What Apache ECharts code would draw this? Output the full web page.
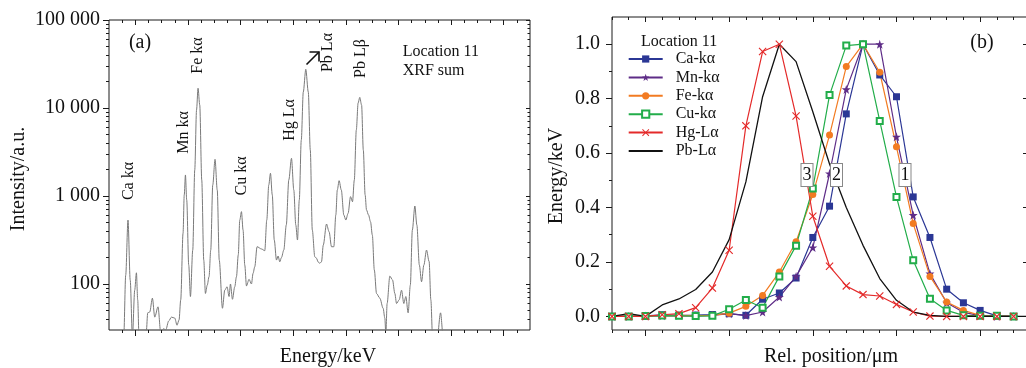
<!DOCTYPE html>
<html>
<head>
<meta charset="UTF-8" />
<script type="text/javascript" src="https://cdn.jsdelivr.net/npm/echarts@6/dist/echarts.min.js"></script>
<style>
  html, body { margin: 0; padding: 0; background: #fff; }
  #chartmain { width: 1026px; height: 368px; }
</style>
</head>
<body>
<div id="chartmain"></div>
<script type="text/javascript">
// (a) XRF sum spectrum, energy in keV and intensity in a.u.
var spectrumEnergy = [3.00, 3.50, 3.56, 3.635, 3.722, 3.806, 3.89, 3.977, 4.042, 4.091, 4.141, 4.32, 4.422, 4.471, 4.548, 4.65, 4.738, 4.863, 4.966, 5.08,
  5.156, 5.27, 5.373, 5.498, 5.586, 5.662, 5.726, 5.814, 5.86, 5.905, 5.954, 6.03, 6.095, 6.183, 6.259, 6.327, 6.384, 6.449, 6.525, 6.601,
  6.665, 6.734, 6.802, 6.867, 6.943, 7.03, 7.114, 7.19, 7.312, 7.399, 7.487, 7.563, 7.616, 7.692, 7.779, 7.844, 7.913, 7.97, 8.034, 8.095,
  8.16, 8.224, 8.323, 8.414, 8.475, 8.54, 8.627, 8.795, 8.92, 8.996, 9.072, 9.137, 9.205, 9.281, 9.365, 9.426, 9.49, 9.555, 9.643, 9.738,
  9.833, 9.935, 10.023, 10.099, 10.163, 10.232, 10.308, 10.384, 10.479, 10.574, 10.65, 10.726, 10.821, 10.886, 10.947, 11.011, 11.076, 11.144, 11.266, 11.365,
  11.456, 11.544, 11.62, 11.677, 11.745, 11.829, 11.924, 12.0, 12.087, 12.179, 12.255, 12.323, 12.399, 12.468, 12.53, 12.6, 12.665, 12.734, 12.787, 12.863,
  12.939, 13.008, 13.084, 13.167, 13.293, 13.418, 13.483, 13.521, 13.57, 13.673, 13.776, 13.863, 13.928, 14.027, 14.118, 14.205, 14.281, 14.369, 14.452, 14.529,
  14.624, 14.70, 14.795, 14.878, 14.966, 15.067, 15.166, 15.232, 15.297, 15.46, 15.601, 15.70, 15.80, 19.0];
var spectrumCounts = [20, 20, 25, 126, 533, 111, 25, 85, 134, 66, 25, 20, 30, 47, 48, 69, 42, 55, 28, 31,
  30, 38, 42, 41, 34, 39, 66, 377, 1030, 1734, 900, 164, 72, 243, 1975, 9490, 16750, 10800, 1520, 187,
  78, 97, 121, 243, 1334, 2612, 1170, 187, 53, 85, 93, 72, 100, 67, 93, 121, 214, 533, 664, 411,
  164, 95, 113, 100, 132, 157, 265, 250, 239, 533, 1334, 1811, 1030, 316, 187, 208, 179, 200, 243, 468,
  1520, 2680, 1170, 468, 316, 900, 4330, 15200, 27500, 15200, 3330, 411, 204, 196, 178, 172, 179, 277, 480, 392,
  265, 265, 609, 1170, 1493, 1170, 609, 533, 635, 983, 860, 1520, 5620, 11400, 13200, 10800, 3330, 1030, 693, 609,
  510, 360, 144, 78, 69, 53, 41, 27, 60, 123, 111, 78, 60, 66, 85, 60, 72, 47, 97, 411,
  769, 468, 164, 106, 164, 243, 180, 66, 25, 22, 47, 25, 20, 20];

var intensityTicks = [100, 1000, 10000, 100000];
var intensityMinorTicks = [40, 50, 60, 70, 80, 90, 200, 300, 400, 500, 600, 700, 800, 900,
  2000, 3000, 4000, 5000, 6000, 7000, 8000, 9000, 20000, 30000, 40000, 50000, 60000, 70000, 80000, 90000];
var energyTicks = [4, 6, 8, 10, 12, 14, 16, 18];
var energyMinorTicks = [3.5, 4.5, 5, 5.5, 6.5, 7, 7.5, 8.5, 9, 9.5, 10.5, 11, 11.5, 12.5, 13, 13.5, 14.5, 15, 15.5, 16.5, 17, 17.5, 18.5];

// (b) line scan profiles
var relPos = [0, 1, 2, 3, 4, 5, 6, 7, 8, 9, 10, 11, 12, 13, 14, 15, 16, 17, 18, 19, 20, 21, 22, 23, 24];
var caKa = [0, 0, 0.002, 0.006, 0.004, 0.005, 0.007, 0.010, 0.004, 0.063, 0.086, 0.141, 0.290, 0.405, 0.744, 1.000, 0.887, 0.807, 0.439, 0.290, 0.100, 0.050, 0.022, 0.002, 0];
var mnKa = [0, 0, 0.001, 0.002, 0.003, 0.002, 0.004, 0.010, 0.003, 0.016, 0.071, 0.147, 0.253, 0.525, 0.834, 1.000, 1.000, 0.660, 0.372, 0.157, 0.050, 0.015, 0.003, 0, 0];
var feKa = [0, 0, 0.002, 0.003, 0.004, 0.003, 0.004, 0.012, 0.037, 0.077, 0.163, 0.274, 0.448, 0.666, 0.918, 1.000, 0.897, 0.623, 0.341, 0.147, 0.053, 0.022, 0.004, 0, 0];
var cuKa = [0, 0, 0.001, 0.003, 0.002, 0.001, 0.002, 0.026, 0.060, 0.032, 0.147, 0.260, 0.470, 0.813, 0.995, 1.000, 0.718, 0.439, 0.206, 0.065, 0.022, 0.004, 0.002, 0.002, 0];
var hgLa = [0, 0, 0, 0.006, 0.010, 0.032, 0.104, 0.243, 0.700, 0.973, 1.000, 0.736, 0.368, 0.184, 0.112, 0.080, 0.075, 0.044, 0.016, 0.001, 0, 0, 0, 0, 0];
var pbPos = [0, 1, 2, 3, 4, 5, 6, 7, 8, 9, 10, 11, 12, 13, 14, 15, 16, 17, 18, 19, 20, 21, 22, 23, 24, 25];
var pbLa = [0, 0.010, 0, 0.042, 0.064, 0.099, 0.163, 0.282, 0.494, 0.807, 1.000, 0.936, 0.752, 0.560, 0.400, 0.261, 0.139, 0.059, 0.016, 0.004, 0, 0, 0, 0, 0, 0];

var posTicks = [2, 7, 12, 17, 22];
var posMinorTicks = [0, 1, 3, 4, 5, 6, 8, 9, 10, 11, 13, 14, 15, 16, 18, 19, 20, 21, 23, 24];
var energyValTicks = [0, 0.2, 0.4, 0.6, 0.8, 1.0];
var energyValMinorTicks = [0.1, 0.3, 0.5, 0.7, 0.9];

var FONT = '"Liberation Serif", "Times New Roman", serif';
var AXIS = '#1a1a1a';

function pairs(xs, ys) {
  return ys.map(function (v, i) { return [xs[i], v]; });
}

// tick-only axis: the frame itself is the grid border.
// ticks on the top/right sides point into the plot: the axis is shifted in by
// the tick length (negative offset) and its ticks drawn outwards from there.
function tickAxis(grid, pos, ticks, len, mirror, extra) {
  var ax = {
    gridIndex: grid,
    position: pos,
    type: 'value',
    offset: mirror ? -len : 0,
    axisLine: { show: false, onZero: false },
    axisTick: { show: true, inside: false, length: len, customValues: ticks, lineStyle: { color: AXIS, width: 1 } },
    axisLabel: { show: false },
    splitLine: { show: false },
    minorTick: { show: false }
  };
  for (var k in extra) ax[k] = extra[k];
  return ax;
}

var starPath = 'path://M5,0L6.2,3.6L10,3.6L7,5.9L8.1,9.5L5,7.3L1.9,9.5L3,5.9L0,3.6L3.8,3.6Z';
var crossPath = 'path://M0,1L1,0L5,4L9,0L10,1L6,5L10,9L9,10L5,6L1,10L0,9L4,5Z';

function ext(base, more) {
  var o = {};
  for (var k in base) o[k] = base[k];
  for (var m in more) o[m] = more[m];
  return o;
}
var xA = { min: 3, max: 19 };
var xB = { min: 0, max: 24.8 };
var yA = { type: 'log', min: 30, max: 100000 };
var yB = { min: -0.05, max: 1.1 };

var spectrumData = pairs(spectrumEnergy, spectrumCounts);

function profile(name, data, xi, yi, color, symbol, size, itemStyle) {
  return {
    name: name, type: 'line', xAxisIndex: xi, yAxisIndex: yi, data: data,
    symbol: symbol, symbolSize: size, color: color,
    lineStyle: { width: 1.2, color: color }, itemStyle: itemStyle || { color: color }
  };
}

// the tick-only axes need a series to get a scale; same spectrum, drawn invisibly
function ghost(xi, yi) {
  return {
    name: 'ghost' + xi, type: 'line', xAxisIndex: xi, yAxisIndex: yi, data: spectrumData,
    symbol: 'none', silent: true, lineStyle: { opacity: 0, width: 0 }, z: 0
  };
}

var option = {
  animation: false,
  backgroundColor: '#fff',
  textStyle: { fontFamily: FONT },
  grid: [
    { left: 109, top: 20, width: 421, height: 310, show: true, borderColor: AXIS, borderWidth: 1, backgroundColor: 'transparent', outerBoundsMode: 'none', containLabel: false },
    { left: 612, top: 17, width: 415, height: 313, show: true, borderColor: AXIS, borderWidth: 1, backgroundColor: 'transparent', outerBoundsMode: 'none', containLabel: false }
  ],
  xAxis: [
    tickAxis(0, 'bottom', energyTicks, 6, false, xA),
    tickAxis(0, 'bottom', energyMinorTicks, 3, false, xA),
    tickAxis(0, 'top', energyTicks, 5, true, xA),
    tickAxis(0, 'top', energyMinorTicks, 3, true, xA),
    tickAxis(1, 'bottom', posTicks, 6, false, xB),
    tickAxis(1, 'bottom', posMinorTicks, 3, false, xB),
    tickAxis(1, 'top', posTicks, 5, true, xB),
    tickAxis(1, 'top', posMinorTicks, 3, true, xB)
  ],
  yAxis: [
    tickAxis(0, 'left', intensityTicks, 6, false, ext(yA, {
      axisLabel: {
        show: true, customValues: intensityTicks, margin: 9, color: '#111', fontSize: 20, fontFamily: FONT,
        formatter: function (v) { return String(Math.round(v)).replace(/\B(?=(\d{3})+(?!\d))/g, ' '); }
      }
    })),
    tickAxis(0, 'left', intensityMinorTicks, 3, false, yA),
    tickAxis(0, 'right', intensityTicks, 4, true, yA),
    tickAxis(0, 'right', intensityMinorTicks, 2.5, true, yA),
    tickAxis(1, 'left', energyValTicks, 6, false, ext(yB, {
      axisLabel: {
        show: true, customValues: energyValTicks, margin: 12, color: '#111', fontSize: 20, fontFamily: FONT,
        formatter: function (v) { return v.toFixed(1); }
      }
    })),
    tickAxis(1, 'left', energyValMinorTicks, 3, false, yB),
    tickAxis(1, 'right', energyValTicks, 4, true, yB)
  ],
  legend: {
    orient: 'vertical',
    left: 622.7,
    top: 45,
    itemWidth: 34,
    itemHeight: 9,
    itemGap: 0.4,
    textStyle: { fontFamily: FONT, fontSize: 16, color: '#111', lineHeight: 18, padding: [0, 0, 0, 8] },
    data: ['Ca-kα', 'Mn-kα', 'Fe-kα', 'Cu-kα', 'Hg-Lα', { name: 'Pb-Lα', itemStyle: { opacity: 0 } }]
  },
  series: [
    {
      name: 'XRF sum', type: 'line', xAxisIndex: 0, yAxisIndex: 0,
      data: spectrumData,
      symbol: 'none', smooth: 0.3, smoothMonotone: 'x',
      lineStyle: { color: '#7a7a7a', width: 1 }, clip: true
    },
    ghost(1, 1), ghost(2, 2), ghost(3, 3),
    // the six profiles are spread over the overlaid axes so that every axis has data
    profile('Ca-kα', pairs(relPos, caKa), 4, 4, '#2b3795', 'rect', 7),
    profile('Mn-kα', pairs(relPos, mnKa), 5, 5, '#5e2c87', starPath, 9),
    profile('Fe-kα', pairs(relPos, feKa), 6, 6, '#f27b22', 'circle', 7),
    profile('Cu-kα', pairs(relPos, cuKa), 7, 4, '#22ad4a', 'emptyRect', 6, { color: '#22ad4a', borderWidth: 1 }),
    profile('Hg-Lα', pairs(relPos, hgLa), 4, 5, '#e42a2a', crossPath, 8),
    {
      name: 'Pb-Lα', type: 'line', xAxisIndex: 5, yAxisIndex: 6, data: pairs(pbPos, pbLa),
      symbol: 'none', color: '#111',
      lineStyle: { width: 1.3, color: '#111' }, clip: true
    }
  ],
  graphic: []
};

function txt(x, y, s, size, rot, align) {
  return {
    type: 'text', x: x, y: y, rotation: rot || 0, silent: true,
    style: { text: s, fontFamily: FONT, fill: '#111', fontSize: size, align: align || 'center', verticalAlign: 'middle' }
  };
}
function boxed(x, y, s) {
  return {
    type: 'text', x: x, y: y, silent: true, z: 100,
    style: { text: s, fontFamily: FONT, fill: '#111', fontSize: 18, align: 'center', verticalAlign: 'middle',
      backgroundColor: '#fff', borderColor: '#888', borderWidth: 1, padding: [3, 1, 1, 1] }
  };
}
var R = Math.PI / 2;
option.graphic = [
  txt(19, 179, 'Intensity/a.u.', 20, R),
  txt(328, 357, 'Energy/keV', 20),
  txt(557, 176, 'Energy/keV', 20, R),
  txt(831, 357, 'Rel. position/μm', 20),
  txt(140, 43, '(a)', 20),
  txt(982, 43, '(b)', 20),
  txt(402.7, 51.7, 'Location 11', 16, 0, 'left'),
  txt(402.7, 70.7, 'XRF sum', 16, 0, 'left'),
  txt(641, 41.7, 'Location 11', 16, 0, 'left'),
  txt(129, 181, 'Ca kα', 16, R),
  txt(183.3, 132.5, 'Mn kα', 16, R),
  txt(197.5, 55.5, 'Fe kα', 16, R),
  txt(241.7, 176, 'Cu kα', 16, R),
  txt(290, 120, 'Hg Lα', 16, R),
  txt(327.5, 52.5, 'Pb Lα', 16, R),
  txt(360.8, 58.5, 'Pb Lβ', 16, R),
  { type: 'polyline', silent: true, shape: { points: [[306.5, 64.5], [319, 52]] }, style: { stroke: '#111', lineWidth: 1.6, fill: null } },
  { type: 'polyline', silent: true, shape: { points: [[309.5, 52], [319, 52], [319, 61.5]] }, style: { stroke: '#111', lineWidth: 1.6, fill: null } },
  boxed(807, 175, '3'),
  boxed(836.5, 175, '2'),
  boxed(905, 175, '1')
];

var myChart = echarts.init(document.getElementById('chartmain'));
myChart.setOption(option);
</script>
</body>
</html>
